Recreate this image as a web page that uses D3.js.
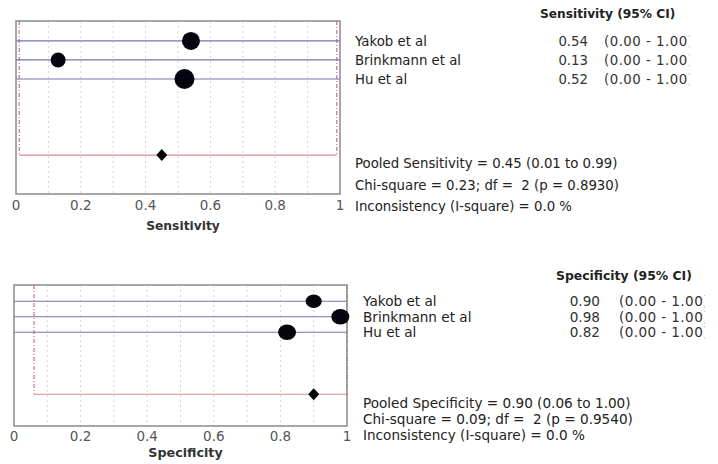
<!DOCTYPE html>
<html>
<head>
<meta charset="utf-8">
<script src="https://cdn.jsdelivr.net/npm/d3@7"></script>
<style>
  body { margin: 0; background: #fff; }
  svg { font-family: "DejaVu Sans", Verdana, sans-serif; }
  text { white-space: pre; }
</style>
</head>
<body>
<svg id="chart" width="718" height="464"></svg>
<script>
// study data
var studies = ["Yakob et al", "Brinkmann et al", "Hu et al"];

var senValue = [0.54, 0.13, 0.52];
var senLow = [0.00, 0.00, 0.00];
var senHigh = [1.00, 1.00, 1.00];
var senWeight = [81, 56, 100];
var senPooled = [0.45, 0.01, 0.99];
var senStats = ["Pooled Sensitivity = 0.45 (0.01 to 0.99)",
                "Chi-square = 0.23; df =  2 (p = 0.8930)",
                "Inconsistency (I-square) = 0.0 %"];

var speValue = [0.90, 0.98, 0.82];
var speLow = [0.00, 0.00, 0.00];
var speHigh = [1.00, 1.00, 1.00];
var speWeight = [72, 90, 90];
var spePooled = [0.90, 0.06, 1.00];
var speStats = ["Pooled Specificity = 0.90 (0.06 to 1.00)",
                "Chi-square = 0.09; df =  2 (p = 0.9540)",
                "Inconsistency (I-square) = 0.0 %"];

var tickVals = [0, 0.2, 0.4, 0.6, 0.8, 1];
var gridVals = [0.1, 0.2, 0.3, 0.4, 0.5, 0.6, 0.7, 0.8, 0.9];

var svg = d3.select("#chart");

function drawPanel(o) {
  var g = svg.append("g");
  var x = d3.scaleLinear().domain([0, 1]).range([o.left, o.right]);
  var y = d3.scaleLinear().domain([-1.05, 8.05]).range([o.top, o.bottom]);
  var r = d3.scaleSqrt().domain([0, 100]).range([0, o.maxR]);
  var pooledRow = 6;

  // grid
  g.selectAll(".grid").data(gridVals).enter().append("line")
    .attr("x1", d => x(d)).attr("x2", d => x(d))
    .attr("y1", o.top).attr("y2", o.bottom)
    .attr("stroke", "#d4d4d4").attr("stroke-dasharray", "2,3");

  // pooled CI verticals
  g.selectAll(".civ").data([o.pooled[1], o.pooled[2]]).enter().append("line")
    .attr("x1", d => x(d)).attr("x2", d => x(d))
    .attr("y1", o.top).attr("y2", y(pooledRow))
    .attr("stroke", "#c8709a").attr("stroke-width", 1.2)
    .attr("stroke-dasharray", "4,2,1,2");

  // study CI lines
  g.selectAll(".ci").data(studies).enter().append("line")
    .attr("x1", (d, i) => x(o.low[i])).attr("x2", (d, i) => x(o.high[i]))
    .attr("y1", (d, i) => y(i)).attr("y2", (d, i) => y(i))
    .attr("stroke", "#7474b4").attr("stroke-width", 1.2);

  // pooled line
  g.append("line")
    .attr("x1", x(o.pooled[1])).attr("x2", x(o.pooled[2]))
    .attr("y1", y(pooledRow)).attr("y2", y(pooledRow))
    .attr("stroke", "#d88c8c").attr("stroke-width", 1.2);

  // box
  g.append("rect")
    .attr("x", o.left).attr("y", o.top)
    .attr("width", o.right - o.left).attr("height", o.bottom - o.top)
    .attr("fill", "none").attr("stroke", "#8a8a8a").attr("stroke-width", 1.5);

  // study markers
  g.selectAll(".pt").data(studies).enter().append("ellipse")
    .attr("cx", (d, i) => x(o.value[i])).attr("cy", (d, i) => y(i))
    .attr("rx", (d, i) => r(o.weight[i]))
    .attr("ry", (d, i) => r(o.weight[i]) * o.aspect)
    .attr("fill", "#050510");

  // pooled diamond
  var px = x(o.pooled[0]), py = y(pooledRow);
  g.append("path")
    .attr("d", "M" + (px - 5.5) + "," + py + "L" + px + "," + (py - 6) +
               "L" + (px + 5.5) + "," + py + "L" + px + "," + (py + 6) + "Z")
    .attr("fill", "#000");

  // ticks
  g.selectAll(".tick").data(tickVals).enter().append("text")
    .attr("x", d => x(d)).attr("y", o.bottom + o.tickDy)
    .attr("text-anchor", "middle").attr("font-size", 13.5)
    .attr("fill", "#555")
    .text(d => d3.format("")(d));

  g.append("text")
    .attr("x", o.labelX).attr("y", o.bottom + o.labelDy)
    .attr("text-anchor", "middle").attr("font-size", o.labelSize)
    .attr("font-weight", "bold").attr("fill", "#333")
    .text(o.axisLabel);

  // right side table
  var fs = o.fontSize;
  g.append("text")
    .attr("x", o.headX).attr("y", o.headY)
    .attr("font-size", o.headSize).attr("font-weight", "bold").attr("fill", "#222")
    .text(o.header);

  g.selectAll(".name").data(studies).enter().append("text")
    .attr("x", o.nameX).attr("y", (d, i) => y(i) + 5)
    .attr("font-size", fs).attr("fill", "#222")
    .text(d => d);

  g.selectAll(".val").data(o.value).enter().append("text")
    .attr("x", o.valX).attr("y", (d, i) => y(i) + 5)
    .attr("text-anchor", "end")
    .attr("font-size", fs).attr("fill", "#333")
    .text(d => d3.format(".2f")(d));

  // CI text, closing bracket half cut off as in the export
  var clipId = "clip" + o.id;
  var clipRect = svg.append("clipPath").attr("id", clipId).append("rect");
  var ciText = g.append("g").attr("clip-path", "url(#" + clipId + ")")
    .selectAll(".ci-t").data(studies).enter().append("text")
    .attr("x", o.ciX).attr("y", (d, i) => y(i) + 5)
    .attr("font-size", fs).attr("fill", "#333")
    .attr("letter-spacing", o.ciSpacing)
    .text((d, i) => "(" + d3.format(".2f")(o.low[i]) + " - " + d3.format(".2f")(o.high[i]) + ")");
  var full = ciText.node().getComputedTextLength();
  clipRect.attr("x", o.ciX - 5).attr("y", 0)
    .attr("width", full + 5 - fs * 0.3).attr("height", 464);

  g.selectAll(".stat").data(o.stats).enter().append("text")
    .attr("x", o.nameX).attr("y", (d, i) => o.statY + i * o.statStep + 5)
    .attr("font-size", fs).attr("fill", "#222")
    .text(d => d);
}

drawPanel({
  id: 1, left: 16, right: 340, top: 21, bottom: 194, maxR: 10, aspect: 1,
  value: senValue, low: senLow, high: senHigh, weight: senWeight, pooled: senPooled,
  stats: senStats, axisLabel: "Sensitivity", header: "Sensitivity (95% CI)",
  labelX: 183, labelSize: 12.3, labelDy: 36, tickDy: 16, headSize: 12.2,
  fontSize: 13.3, headX: 540, headY: 18, nameX: 355, valX: 588, ciX: 604, ciSpacing: 0.5,
  statY: 163, statStep: 21.5
});

drawPanel({
  id: 2, left: 14, right: 347, top: 285, bottom: 426, maxR: 9.5, aspect: 0.85,
  value: speValue, low: speLow, high: speHigh, weight: speWeight, pooled: spePooled,
  stats: speStats, axisLabel: "Specificity", header: "Specificity (95% CI)",
  labelX: 185.5, labelSize: 12.7, labelDy: 30.5, tickDy: 14.5, headSize: 12.4,
  fontSize: 13.6, headX: 556, headY: 280, nameX: 363, valX: 600, ciX: 619, ciSpacing: 0.4,
  statY: 403, statStep: 16
});
</script>
</body>
</html>
